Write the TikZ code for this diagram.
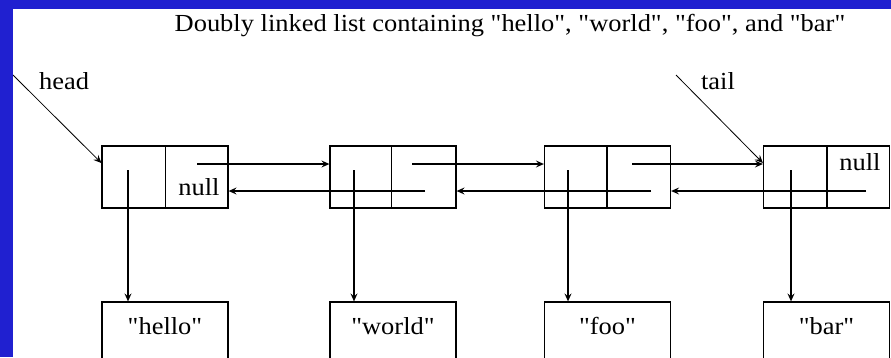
\documentclass[tikz,border=0pt]{standalone}
\usepackage{fontspec}
\setmainfont{Liberation Serif}[FakeStretch=1.08, Ligatures=TeXOff]
\usetikzlibrary{arrows.meta}
\definecolor{frameblue}{RGB}{32,32,208}
\begin{document}
\begin{tikzpicture}[x=1pt,y=-1pt,
  lbl/.style={font=\fontsize{24.5}{28}\selectfont, inner sep=0pt, anchor=base},
  cellbox/.style={draw, line width=1.2pt, minimum width=126pt, minimum height=62pt, inner sep=0pt},
  strbox/.style={draw, line width=1.2pt, minimum width=126pt, minimum height=80pt, inner sep=0pt},
  link/.style={line width=1.2pt, -{Stealth[length=8pt,width=7pt,inset=3pt]}},
  extptr/.style={line width=0.8pt, -{Stealth[length=8pt,width=7pt,inset=3pt]}},
  divider/.style={line width=1.2pt}
]
\useasboundingbox (0,0) rectangle (891,357);
\fill[frameblue] (0,0) rectangle (891,357);
\fill[white] (13,9) rectangle (891,357);
\begin{scope}
\clip (13,9) rectangle (891,357);

% title
\node[lbl] (title) at (510,31) {Doubly linked list containing "hello", "world", "foo", and "bar"};

% list nodes (prev | next)
\node[cellbox] (n1) at (165,177) {};
\node[cellbox] (n2) at (393,177) {};
\node[cellbox] (n3) at (607.5,177) {};
\node[cellbox] (n4) at (826.5,177) {};
\draw[divider] ([xshift=64pt]n1.north west) -- ([xshift=64pt]n1.south west);
\draw[divider] ([xshift=62pt]n2.north west) -- ([xshift=62pt]n2.south west);
\draw[divider] ([xshift=63pt]n3.north west) -- ([xshift=63pt]n3.south west);
\draw[divider] ([xshift=64pt]n4.north west) -- ([xshift=64pt]n4.south west);

% string boxes
\node[strbox] (s1) at (165,342) {};
\node[strbox] (s2) at (393,342) {};
\node[strbox] (s3) at (607.5,342) {};
\node[strbox] (s4) at (826.5,342) {};
\node[lbl] (t1) at ([yshift=-33pt]s1.north) {"hello"};
\node[lbl] (t2) at ([yshift=-33pt]s2.north) {"world"};
\node[lbl] (t3) at ([yshift=-33pt]s3.north) {"foo"};
\node[lbl] (t4) at ([yshift=-33pt]s4.north) {"bar"};

% null markers
\node[lbl] (null1) at (199,195) {null};
\node[lbl] (null4) at (860,170) {null};

% data pointers
\coordinate (d1) at (128,170);
\coordinate (d2) at (354,170);
\coordinate (d3) at (568,170);
\coordinate (d4) at (791,170);
\draw[link] (d1) -- (d1 |- s1.north);
\draw[link] (d2) -- (d2 |- s2.north);
\draw[link] (d3) -- (d3 |- s3.north);
\draw[link] (d4) -- (d4 |- s4.north);

% next pointers
\coordinate (f1) at (197,164);
\coordinate (f2) at (412,164);
\coordinate (f3) at (632,164);
\draw[link] (f1) -- (f1 -| n2.west);
\draw[link] (f2) -- (f2 -| n3.west);
\draw[link] (f3) -- (f3 -| n4.west);

% prev pointers
\coordinate (b2) at (425,191);
\coordinate (b3) at (651,191);
\coordinate (b4) at (866,191);
\draw[link] (b2) -- (b2 -| n1.east);
\draw[link] (b3) -- (b3 -| n2.east);
\draw[link] (b4) -- (b4 -| n3.east);

% head and tail
\node[lbl] (head) at (64,89) {head};
\node[lbl] (tail) at (718,89) {tail};
\coordinate (hs) at (13,75);
\coordinate (ts) at (676,75);
\draw[extptr] (hs) -- ([yshift=14pt]n1.west);
\draw[extptr] (ts) -- ([yshift=14pt]n4.west);
\end{scope}
\end{tikzpicture}
\end{document}
